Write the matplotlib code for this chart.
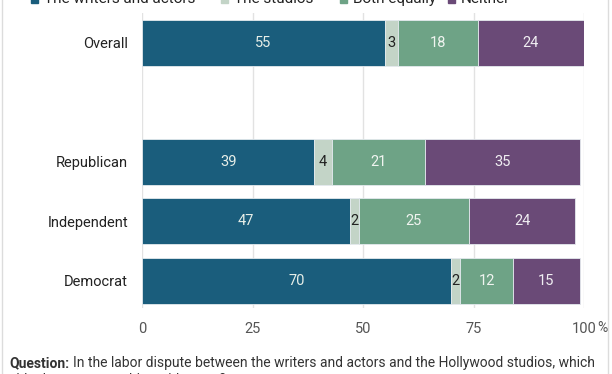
import numpy as np
import matplotlib.pyplot as plt
from matplotlib.patches import Rectangle

plt.rcParams['font.family'] = ['Roboto', 'DejaVu Sans']

groups = ['Overall', '', 'Republican', 'Independent', 'Democrat']
series = ['The writers and actors', 'The studios', 'Both equally', 'Neither']
writers = [55, None, 39, 47, 70]
studios = [3, None, 4, 2, 2]
both = [18, None, 21, 25, 12]
neither = [24, None, 35, 24, 15]
colors = ['#1a5d7c', '#c3d4c7', '#6ea386', '#6a4a77']
text_colors = ['#e6eee8', '#222222', '#f0f4f0', '#f0eef2']

W, H = 612, 374
fig = plt.figure(figsize=(W / 100, H / 100), dpi=100)
fig.patch.set_facecolor('white')
ax = fig.add_axes([142 / W, 1 - 308 / H, (584 - 142) / W, (308 - 13) / H])

# light frame around the card
fig.patches.append(Rectangle((2 / W, -0.1), 606 / W, 1.2, transform=fig.transFigure,
                             fill=False, edgecolor='#dcdcdc', linewidth=1))

data = [writers, studios, both, neither]
left = np.zeros(len(groups))
for k, vals in enumerate(data):
    for i, v in enumerate(vals):
        if v is None:
            continue
        ax.barh(i, v, left=left[i], height=0.77, color=colors[k],
                edgecolor='#e4eaee', linewidth=0.6, zorder=2)
        ax.text(left[i] + v / 2, i, str(v), ha='center', va='center',
                color=text_colors[k], fontsize=10.5, zorder=3)
        left[i] += v

ax.set_xlim(0, 100)
ax.set_ylim(4.46, -0.5)
ax.set_xticks([0, 25, 50, 75, 100])
ax.set_xticklabels(['0', '25', '50', '75', '100'])
ax.set_yticks([0, 2, 3, 4])
ax.set_yticklabels(['Overall', 'Republican', 'Independent', 'Democrat'])
ax.tick_params(axis='x', length=0, pad=10, labelsize=10.5, labelcolor='#555555')
ax.tick_params(axis='y', length=0, pad=10, labelsize=10.5, labelcolor='#222222')
ax.grid(axis='x', color='#e2e2e2', linewidth=1, zorder=0)
ax.set_axisbelow(True)
for s in ax.spines.values():
    s.set_visible(False)

fig.text(597 / W, 1 - 328 / H, '%', ha='left', va='center', fontsize=10, color='#555555')

# legend (cut at the top of the picture)
sq_x = [31, 221, 340, 448]
for k, name in enumerate(series):
    fig.patches.append(Rectangle((sq_x[k] / W, 1 - 3 / H), 7 / W, 7 / H,
                                 transform=fig.transFigure, color=colors[k]))
    fig.text((sq_x[k] + 13) / W, 1 + 1.5 / H, name, ha='left', va='center',
             fontsize=11, color='#222222')

# question (cut at the bottom)
q_y = 1 - 363 / H
qlab = fig.text(9 / W, q_y, 'Question:', ha='left', va='center', fontsize=10,
                fontweight='bold', color='#333333')
fig.canvas.draw()
bb = qlab.get_window_extent()
fig.text((bb.x1 + 4) / W, q_y,
         'In the labor dispute between the writers and actors and the Hollywood studios, which',
         ha='left', va='center', fontsize=10, color='#333333')
fig.text(9 / W, 1 - 380 / H, 'side do you sympathize with more?', ha='left', va='center',
         fontsize=10, color='#333333')

fig.savefig('out.png', dpi=100)
